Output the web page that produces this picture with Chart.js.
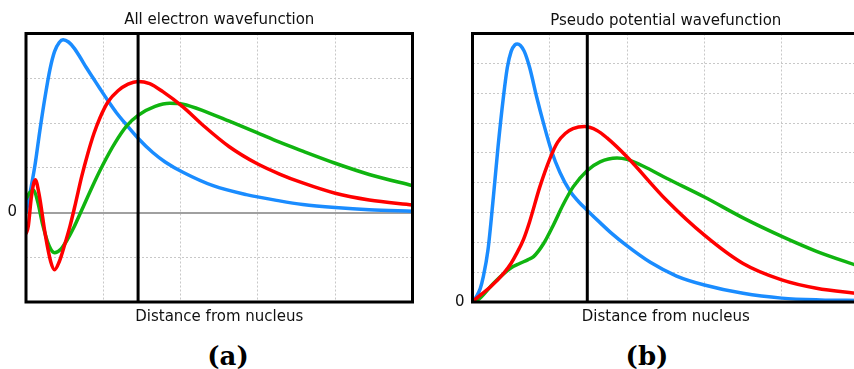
<!DOCTYPE html>
<html>
<head>
<meta charset="utf-8">
<script src="https://cdn.jsdelivr.net/npm/chart.js@4"></script>
<style>
  html, body { margin: 0; padding: 0; background: #fff; width: 854px; height: 369px; overflow: hidden; }
  .panel { position: absolute; top: 0; height: 330px; }
  #boxA { left: 0; width: 430px; }
  #boxB { left: 430px; width: 440px; }
  .tag { position: absolute; top: 340px; width: 100px; text-align: center; font: bold 26px 'DejaVu Serif', serif; line-height: 32px; color: #000; }
</style>
</head>
<body>
<div class="panel" id="boxA"><canvas id="chartA"></canvas></div>
<div class="panel" id="boxB"><canvas id="chartB"></canvas></div>
<div class="tag" style="left:178px">(a)</div>
<div class="tag" style="left:597px">(b)</div>

<script>
// (a) all electron wavefunction
const aBlueX  = [0, 0.03, 0.07, 0.12, 0.18, 0.25, 0.31, 0.37, 0.43, 0.48, 0.55, 0.62, 0.7, 0.78, 0.87, 0.96, 1.06, 1.17, 1.28, 1.45, 1.64, 1.8, 2.03, 2.42, 2.85, 3.28, 3.58, 4.0, 4.44, 5.0];
const aBlueY  = [0, 0.25, 0.6, 1.1, 1.84, 2.62, 3.2, 3.6, 3.8, 3.86, 3.81, 3.68, 3.47, 3.24, 3.0, 2.76, 2.5, 2.23, 2.0, 1.66, 1.34, 1.13, 0.9, 0.6, 0.4, 0.26, 0.18, 0.11, 0.06, 0.03];
const aRedX   = [0, 0.03, 0.07, 0.12, 0.17, 0.25, 0.32, 0.37, 0.43, 0.5, 0.57, 0.64, 0.72, 0.8, 0.88, 0.96, 1.06, 1.19, 1.32, 1.45, 1.6, 1.77, 2.03, 2.29, 2.63, 2.98, 3.28, 3.58, 4.0, 4.44, 5.0];
const aRedY   = [-0.48, -0.3, 0.35, 0.73, 0.4, -0.5, -1.1, -1.28, -1.1, -0.72, -0.3, 0.2, 0.8, 1.32, 1.77, 2.13, 2.47, 2.72, 2.87, 2.93, 2.88, 2.7, 2.36, 1.95, 1.47, 1.1, 0.86, 0.66, 0.43, 0.28, 0.17];
const aGreenX = [0, 0.05, 0.1, 0.15, 0.22, 0.3, 0.37, 0.45, 0.53, 0.62, 0.72, 0.85, 0.99, 1.15, 1.3, 1.45, 1.67, 1.86, 2.03, 2.33, 2.63, 2.98, 3.28, 3.58, 4.0, 4.44, 5.0];
const aGreenY = [0.3, 0.45, 0.5, 0.25, -0.3, -0.75, -0.9, -0.82, -0.62, -0.33, 0.05, 0.55, 1.05, 1.55, 1.93, 2.17, 2.37, 2.44, 2.42, 2.25, 2.04, 1.79, 1.57, 1.37, 1.1, 0.85, 0.6];

// (b) pseudo potential wavefunction
const bBlueX  = [0, 0.05, 0.1, 0.14, 0.2, 0.27, 0.33, 0.4, 0.45, 0.5, 0.55, 0.58, 0.62, 0.67, 0.74, 0.83, 0.92, 1.02, 1.13, 1.26, 1.37, 1.485, 1.65, 1.8, 2.0, 2.3, 2.64, 3.0, 3.5, 4.0, 4.5, 5.0];
const bBlueY  = [0, 0.18, 0.45, 0.85, 1.74, 3.52, 5.19, 6.87, 7.85, 8.4, 8.62, 8.65, 8.6, 8.4, 7.85, 6.87, 5.98, 5.08, 4.35, 3.72, 3.37, 3.07, 2.66, 2.3, 1.88, 1.33, 0.87, 0.57, 0.29, 0.13, 0.07, 0.05];
const bRedX   = [0, 0.05, 0.23, 0.4, 0.5, 0.57, 0.66, 0.74, 0.87, 1.0, 1.1, 1.2, 1.3, 1.45, 1.61, 1.74, 2.0, 2.51, 3.0, 3.5, 4.0, 4.45, 5.0];
const bRedY   = [0, 0.12, 0.5, 0.95, 1.3, 1.62, 2.1, 2.7, 3.85, 4.8, 5.35, 5.65, 5.81, 5.88, 5.75, 5.5, 4.86, 3.41, 2.24, 1.29, 0.74, 0.46, 0.28];
const bGreenX = [0, 0.07, 0.27, 0.49, 0.61, 0.72, 0.79, 0.92, 1.05, 1.17, 1.3, 1.485, 1.65, 1.87, 2.0, 2.25, 2.51, 3.0, 3.5, 4.0, 4.45, 5.0];
const bGreenY = [0, 0.07, 0.62, 1.13, 1.29, 1.42, 1.52, 1.96, 2.6, 3.25, 3.85, 4.41, 4.7, 4.83, 4.78, 4.5, 4.15, 3.52, 2.82, 2.2, 1.7, 1.2];

// cutoff radius (thick black line) and axis ranges
const cutoffA = 1.45, cutoffB = 1.485;
const xRange = [0, 5];
const aYRange = [-2, 4];
const bYRange = [0, 9];

const BLUE = '#1a8cff', RED = '#ff0000', GREEN = '#10b410';

Chart.defaults.font.family = "'DejaVu Sans', sans-serif";
Chart.defaults.font.size = 15;
Chart.defaults.color = '#111';

function pts(xs, ys) {
    return xs.map((x, i) => ({ x: x, y: ys[i] }));
}

function curve(xs, ys, color, order) {
    return {
        data: pts(xs, ys),
        borderColor: color,
        borderWidth: 3.5,
        pointRadius: 0,
        cubicInterpolationMode: 'monotone',
        order: order
    };
}

// black box round the plot area
const framePlugin = {
    id: 'frame',
    afterDatasetsDraw(chart, args, opts) {
        const { ctx, chartArea: a } = chart;
        const sides = opts.sides || [];
        ctx.save();
        ctx.strokeStyle = '#000';
        ctx.lineWidth = 3;
        ctx.beginPath();
        if (sides.includes('top')) { ctx.moveTo(a.left - 1.5, a.top); ctx.lineTo(a.right + 1.5, a.top); }
        if (sides.includes('bottom')) { ctx.moveTo(a.left - 1.5, a.bottom); ctx.lineTo(a.right + 1.5, a.bottom); }
        if (sides.includes('left')) { ctx.moveTo(a.left, a.top); ctx.lineTo(a.left, a.bottom); }
        if (sides.includes('right')) { ctx.moveTo(a.right, a.top); ctx.lineTo(a.right, a.bottom); }
        ctx.stroke();
        ctx.restore();
    }
};

function makePanel(id, cfg) {
    const datasets = [
        { data: pts([cfg.cutoff, cfg.cutoff], cfg.yRange), borderColor: '#000', borderWidth: 3, pointRadius: 0, order: 0 },
        curve(cfg.red[0], cfg.red[1], RED, 1),
        curve(cfg.green[0], cfg.green[1], GREEN, 2),
        curve(cfg.blue[0], cfg.blue[1], BLUE, 3)
    ];

    new Chart(document.getElementById(id), {
        type: 'line',
        data: { datasets: datasets },
        plugins: [framePlugin],
        options: {
            responsive: true,
            maintainAspectRatio: false,
            animation: false,
            layout: { padding: cfg.padding },
            plugins: {
                legend: { display: false },
                tooltip: { enabled: false },
                frame: { sides: cfg.sides }
            },
            scales: {
                x: {
                    type: 'linear',
                    min: xRange[0], max: xRange[1],
                    ticks: { display: false, stepSize: 1 },
                    grid: { color: '#c8c8c8', lineWidth: 1, drawTicks: false },
                    border: { display: false, dash: [2, 2] },
                    title: { display: true, text: 'Distance from nucleus', padding: { top: 0, bottom: 4 } },
                    afterFit: s => { s.height = 28; }
                },
                top: {
                    type: 'linear',
                    position: 'top',
                    min: xRange[0], max: xRange[1],
                    ticks: { display: false },
                    grid: { display: false, drawTicks: false },
                    border: { display: false },
                    title: { display: true, text: cfg.title, padding: { top: cfg.titleTop, bottom: 0 } },
                    afterFit: s => { s.height = 33.5; }
                },
                y: {
                    type: 'linear',
                    min: cfg.yRange[0], max: cfg.yRange[1],
                    ticks: {
                        stepSize: 1,
                        padding: cfg.tickPad,
                        autoSkip: false,
                        callback: v => (v === 0 ? '0' : '')
                    },
                    grid: {
                        drawTicks: false,
                        color: c => (c.tick && c.tick.value === 0 && cfg.zeroLine ? '#a0a0a0' : '#c8c8c8'),
                        lineWidth: c => (c.tick && c.tick.value === 0 && cfg.zeroLine ? 2 : 1)
                    },
                    border: {
                        display: false,
                        dash: c => (c.tick && c.tick.value === 0 && cfg.zeroLine ? [] : [2, 2])
                    },
                    afterFit: s => { s.width = cfg.yWidth; }
                }
            }
        }
    });
}

makePanel('chartA', {
    title: 'All electron wavefunction',
    titleTop: 11,
    cutoff: cutoffA,
    yRange: aYRange,
    blue: [aBlueX, aBlueY], red: [aRedX, aRedY], green: [aGreenX, aGreenY],
    padding: { left: 0, right: 17.5, top: 0, bottom: 0 },
    yWidth: 26,
    tickPad: 9,
    zeroLine: true,
    sides: ['top', 'bottom', 'left', 'right']
});

makePanel('chartB', {
    title: 'Pseudo potential wavefunction',
    titleTop: 12.5,
    cutoff: cutoffB,
    yRange: bYRange,
    blue: [bBlueX, bBlueY], red: [bRedX, bRedY], green: [bGreenX, bGreenY],
    padding: { left: 0, right: 11, top: 0, bottom: 0 },
    yWidth: 42.5,
    tickPad: 8,
    zeroLine: false,
    sides: ['top', 'bottom', 'left']
});
</script>
</body>
</html>
